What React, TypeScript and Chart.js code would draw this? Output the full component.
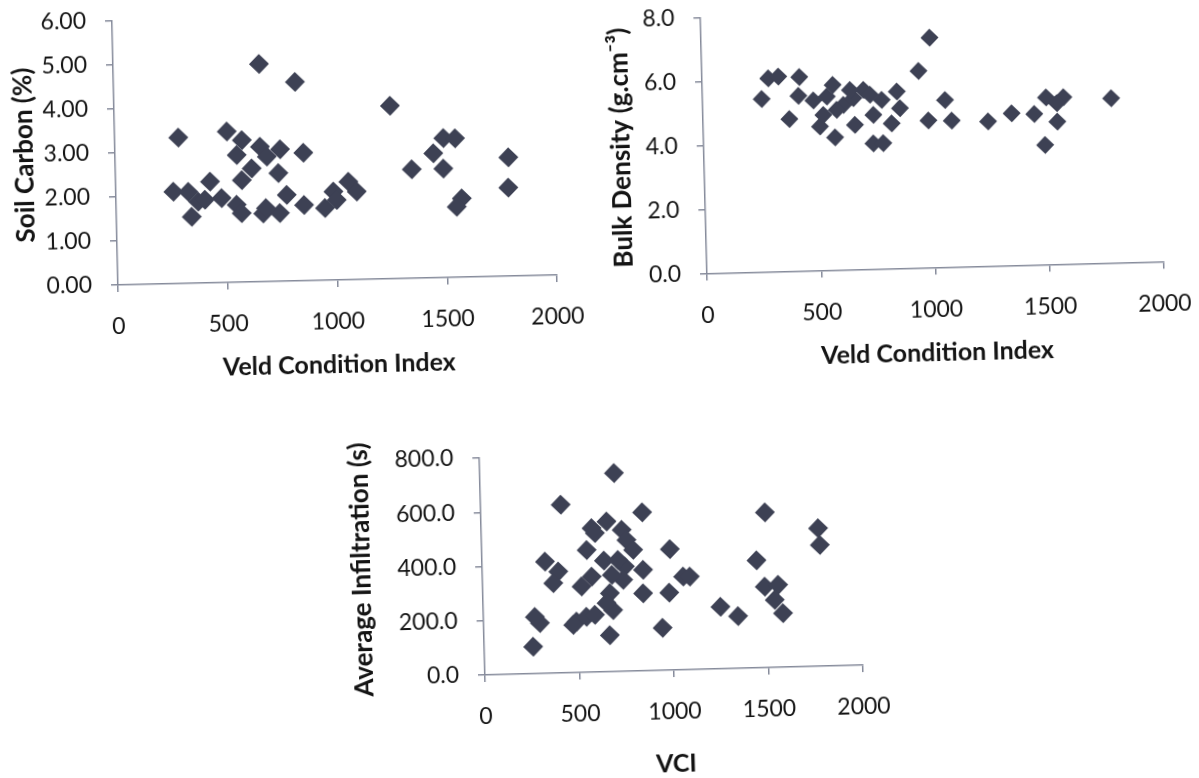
import React, { useEffect, useRef } from "react";
import { Chart, registerables } from "chart.js";

Chart.register(...registerables);

// ---- Data ----
const xTicks = [0, 500, 1000, 1500, 2000];

const soilCarbonVci = [665, 827, 1257, 290, 511, 579, 554, 661, 752, 691, 858, 742, 575, 621, 1497, 1550, 1450, 1350, 1494, 1791, 1788, 1575, 1551, 262, 330, 430, 343, 374, 481, 405, 549, 571, 669, 745, 682, 778, 856, 951, 991, 1005, 1060, 1097];
const soilCarbon = [4.95, 4.52, 3.93, 3.32, 3.43, 3.23, 2.89, 3.07, 3.0, 2.84, 2.91, 2.46, 2.32, 2.58, 3.17, 3.16, 2.83, 2.48, 2.48, 2.7, 2.01, 1.79, 1.6, 2.09, 2.08, 2.3, 1.51, 1.85, 1.92, 1.89, 1.76, 1.57, 1.55, 1.55, 1.67, 1.96, 1.72, 1.64, 2.01, 1.82, 2.23, 2.0];
const soilCarbonTicks = [0, 1, 2, 3, 4, 5, 6];

const bulkDensityVci = [1000, 948, 290, 334, 426, 259, 420, 485, 571, 544, 378, 511, 527, 576, 664, 743, 786, 825, 851, 863, 746, 616, 660, 705, 733, 646, 784, 586, 1061, 986, 1088, 1247, 1351, 1450, 1503, 1579, 1550, 1550, 1494, 1788];
const bulkDensity = [7.19, 6.16, 6.05, 6.09, 6.06, 5.41, 5.48, 5.32, 5.79, 5.43, 4.76, 4.5, 4.86, 4.15, 4.52, 3.93, 3.93, 4.54, 5.53, 5.01, 4.82, 5.16, 5.36, 5.61, 5.45, 5.62, 5.28, 5.01, 5.23, 4.6, 4.58, 4.52, 4.76, 4.72, 5.23, 5.22, 5.04, 4.46, 3.74, 5.15];
const bulkDensityTicks = [0, 2, 4, 6, 8];

const infiltrationVci = [710, 424, 854, 584, 664, 601, 743, 767, 801, 555, 645, 333, 995, 851, 755, 744, 402, 374, 578, 523, 848, 986, 1062, 1097, 672, 687, 653, 1452, 1503, 1782, 1789, 1492, 1563, 1543, 1585, 1255, 1347, 259, 298, 272, 492, 545, 474, 666, 946, 590, 719, 685];
const infiltration = [732, 620, 584, 531, 554, 512, 522, 484, 447, 451, 410, 412, 446, 372, 386, 337, 374, 332, 352, 317, 286, 286, 344, 343, 289, 227, 253, 396, 572, 509, 447, 299, 304, 249, 199, 229, 193, 100, 186, 209, 188, 205, 176, 135, 157, 211, 411, 357];
const infiltrationTicks = [0, 200, 400, 600, 800];

// ---- Styling ----
const FONT = "Lato, 'Open Sans', 'Liberation Sans', sans-serif";
const AXIS_COLOR = "#868b9b";
const MARK_COLOR = "#3d4154";
const TEXT_COLOR = "#141414";

type PanelProps = {
  left: number;
  top: number;
  width: number;
  height: number;
  area: { left: number; top: number; right: number; bottom: number };
  angle: number;
  xs: number[];
  ys: number[];
  yTicks: number[];
  decimals: number;
  xTitle: string;
  yTitle: string;
  yTitlePad: number;
  xTitlePad: number;
  radius: number;
};

function Panel(p: PanelProps) {
  const ref = useRef<HTMLCanvasElement | null>(null);
  useEffect(() => {
    if (!ref.current) return;
    const points = p.xs.map((x, i) => ({ x, y: p.ys[i] }));
    const yMax = p.yTicks[p.yTicks.length - 1];
    const tickFont = { family: FONT, size: 23 };
    const xTitleFont = { family: FONT, size: 25, weight: "bold" as const };
    const yTitleFont = { family: FONT, size: 26, weight: "bold" as const };
    const chart = new Chart(ref.current, {
      type: "scatter",
      data: {
        datasets: [
          {
            data: points,
            pointStyle: "rectRot",
            pointRadius: p.radius,
            pointBackgroundColor: MARK_COLOR,
            pointBorderColor: MARK_COLOR,
            pointBorderWidth: 0,
            clip: false,
          } as any,
        ],
      },
      options: {
        responsive: false,
        animation: false,
        devicePixelRatio: 1,
        events: [],
        layout: {
          autoPadding: false,
          padding: { left: 0, top: p.area.top, right: p.width - p.area.right, bottom: 0 },
        },
        plugins: { legend: { display: false }, tooltip: { enabled: false } },
        scales: {
          x: {
            type: "linear",
            min: xTicks[0],
            max: xTicks[xTicks.length - 1],
            afterBuildTicks: (s: any) => {
              s.ticks = xTicks.map((v) => ({ value: v }));
            },
            ticks: {
              font: tickFont,
              color: TEXT_COLOR,
              padding: 21,
              maxRotation: 0,
              callback: (v: any) => String(v),
            },
            grid: { drawOnChartArea: false, tickLength: 7, color: AXIS_COLOR, lineWidth: 1.5 },
            border: { color: AXIS_COLOR, width: 1.5 },
            title: {
              display: true,
              text: p.xTitle,
              font: xTitleFont,
              color: TEXT_COLOR,
              padding: { top: 0, bottom: p.xTitlePad },
            },
            afterFit: (s: any) => {
              s.height = p.height - p.area.bottom;
              s.paddingLeft = 0;
              s.paddingRight = 0;
            },
          },
          y: {
            type: "linear",
            min: 0,
            max: yMax,
            afterBuildTicks: (s: any) => {
              s.ticks = p.yTicks.map((v) => ({ value: v }));
            },
            ticks: {
              font: tickFont,
              color: TEXT_COLOR,
              padding: 19,
              callback: (v: any) => Number(v).toFixed(p.decimals),
            },
            grid: { drawOnChartArea: false, tickLength: 7, color: AXIS_COLOR, lineWidth: 1.5 },
            border: { color: AXIS_COLOR, width: 1.5 },
            title: {
              display: true,
              text: p.yTitle,
              font: yTitleFont,
              color: TEXT_COLOR,
              padding: { top: p.yTitlePad, bottom: 0 },
            },
            afterFit: (s: any) => {
              s.width = p.area.left;
              s.paddingTop = 0;
              s.paddingBottom = 0;
            },
          },
        },
      },
    });
    return () => chart.destroy();
  }, []);

  return (
    <div
      style={{
        position: "absolute",
        left: p.left,
        top: p.top,
        width: p.width,
        height: p.height,
        transform: `rotate(${p.angle}deg)`,
        transformOrigin: `${p.area.left}px ${p.area.bottom}px`,
      }}
    >
      <canvas ref={ref} width={p.width} height={p.height} style={{ width: p.width, height: p.height, display: "block" }} />
    </div>
  );
}

export default function App() {
  return (
    <div style={{ position: "fixed", left: 0, top: 0, width: 1199, height: 778, overflow: "hidden", background: "#ffffff" }}>
      <Panel
        left={0}
        top={0}
        width={600}
        height={400}
        area={{ left: 118, top: 21, right: 557, bottom: 285 }}
        angle={-1.3}
        xs={soilCarbonVci}
        ys={soilCarbon}
        yTicks={soilCarbonTicks}
        decimals={2}
        xTitle="Veld Condition Index"
        yTitle="Soil Carbon (%)"
        yTitlePad={12}
        xTitlePad={15}
        radius={10}
      />
      <Panel
        left={600}
        top={0}
        width={599}
        height={390}
        area={{ left: 107, top: 17.5, right: 564, bottom: 273.5 }}
        angle={-1.48}
        xs={bulkDensityVci}
        ys={bulkDensity}
        yTicks={bulkDensityTicks}
        decimals={1}
        xTitle="Veld Condition Index"
        yTitle="Bulk Density (g.cm⁻³)"
        yTitlePad={9}
        xTitlePad={16}
        radius={9}
      />
      <Panel
        left={340}
        top={430}
        width={570}
        height={370}
        area={{ left: 145, top: 28, right: 523, bottom: 245 }}
        angle={-1.5}
        xs={infiltrationVci}
        ys={infiltration}
        yTicks={infiltrationTicks}
        decimals={1}
        xTitle="VCI"
        yTitle="Average Infiltration (s)"
        yTitlePad={9}
        xTitlePad={16}
        radius={10}
      />
    </div>
  );
}
